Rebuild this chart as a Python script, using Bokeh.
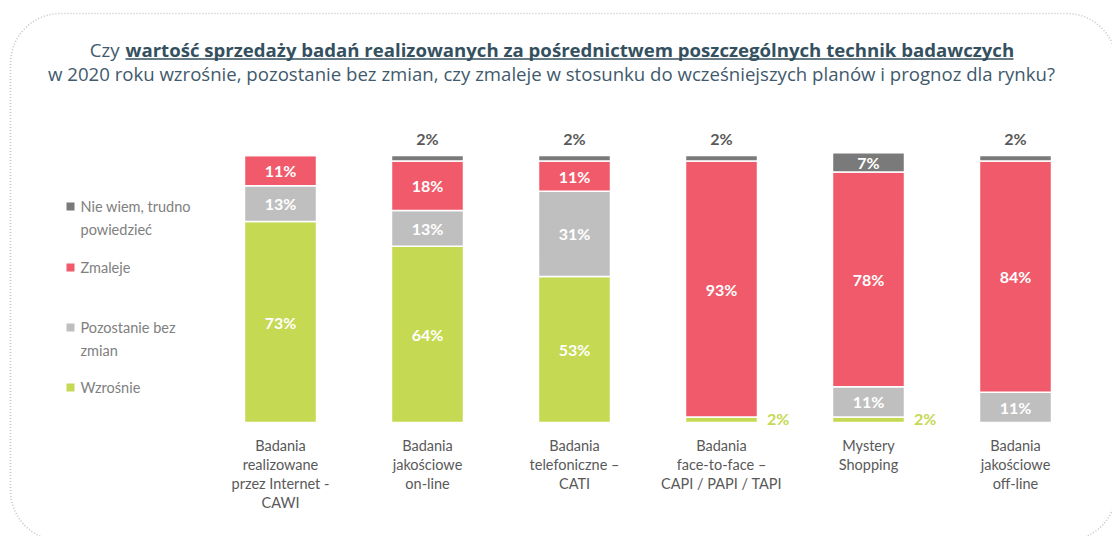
import math
from bokeh.plotting import figure
from bokeh.models import ColumnDataSource, Range1d
from bokeh.core.properties import value
from bokeh.embed import file_html
from bokeh.resources import INLINE

# ---------------- data ----------------
categories = [
    "Badania\nrealizowane\nprzez Internet -\nCAWI",
    "Badania\njakościowe\non-line",
    "Badania\ntelefoniczne –\nCATI",
    "Badania\nface-to-face –\nCAPI / PAPI / TAPI",
    "Mystery\nShopping",
    "Badania\njakościowe\noff-line",
]
wzrosnie = [73, 64, 53, 2, 2, 0]
pozostanie = [13, 13, 31, 0, 11, 11]
zmaleje = [11, 18, 11, 93, 78, 84]
nie_wiem = [0, 2, 2, 2, 7, 2]
series_keys = ["wzrosnie", "pozostanie", "zmaleje", "nie_wiem"]
series_labels = ["Wzrośnie", "Pozostanie bez\nzmian", "Zmaleje", "Nie wiem, trudno\npowiedzieć"]
colors = ["#c5d952", "#bfbfbf", "#f05a6b", "#7a7a7a"]

title_pre = "Czy"
title_bold = "wartość sprzedaży badań realizowanych za pośrednictwem poszczególnych technik badawczych"
title_line2 = "w 2020 roku wzrośnie, pozostanie bez zmian, czy zmaleje w stosunku do wcześniejszych planów i prognoz dla rynku?"

# ---------------- layout helpers (pixel -> data) ----------------
W, H = 1112, 536
X0, STEP = 280.0, 147.0
Y0, PPP = 422.0, 267.0 / 97.0


def X(px):
    return (px - X0) / STEP


def Y(py):
    return (Y0 - py) / PPP


FONT = value("Lato")
TFONT = value("Open Sans")

p = figure(width=W, height=H, x_range=Range1d(X(0), X(W)), y_range=Range1d(Y(H), Y(0)),
           output_backend="svg", toolbar_location=None, min_border=0)
p.axis.visible = False
p.grid.visible = False
p.outline_line_color = None
p.background_fill_color = "white"
p.border_fill_color = "white"

# ---------------- rounded dotted frame ----------------
bx0, by0, bx1, by1, r = 10, 13, 1116, 540, 50
pts = []
for cx, cy, a0 in [(bx1 - r, by0 + r, -90), (bx1 - r, by1 - r, 0), (bx0 + r, by1 - r, 90), (bx0 + r, by0 + r, 180)]:
    for k in range(0, 19):
        a = math.radians(a0 + k * 5)
        pts.append((cx + r * math.cos(a), cy + r * math.sin(a)))
pts.append(pts[0])
p.line([X(a) for a, b in pts], [Y(b) for a, b in pts], line_color="#c4c4c4", line_width=1.6, line_dash="1 2")

# ---------------- bars ----------------
xs = list(range(len(categories)))
src = ColumnDataSource(dict(x=xs, wzrosnie=wzrosnie, pozostanie=pozostanie, zmaleje=zmaleje, nie_wiem=nie_wiem))
p.vbar_stack(series_keys, x="x", width=0.49, color=colors, line_color="white", line_width=1.5, source=src)

# ---------------- value labels ----------------
in_x, in_y, in_t = [], [], []
top_x, top_y, top_t = [], [], []
side_x, side_y, side_t = [], [], []
series_vals = [wzrosnie, pozostanie, zmaleje, nie_wiem]
for i in xs:
    bottom = 0
    for s, vals in enumerate(series_vals):
        v = vals[i]
        if v >= 5:
            in_x.append(i); in_y.append(bottom + v / 2); in_t.append(f"{v}%")
        elif v > 0 and s == 3:
            top_x.append(i); top_y.append(bottom + v + 2.6); top_t.append(f"{v}%")
        elif v > 0 and s == 0:
            side_x.append(i + 0.31); side_y.append(bottom + v / 2 + 0.3); side_t.append(f"{v}%")
        bottom += v

p.text(in_x, in_y, text=in_t, text_color="white", text_font=FONT, text_font_style="bold",
       text_font_size="16px", text_align="center", text_baseline="middle")
p.text(top_x, top_y, text=top_t, text_color="#595959", text_font=FONT, text_font_style="bold",
       text_font_size="16px", text_align="center", text_baseline="bottom")
p.text(side_x, side_y, text=side_t, text_color="#c5d952", text_font=FONT, text_font_style="bold",
       text_font_size="16px", text_align="left", text_baseline="middle")

# ---------------- category labels ----------------
p.text(xs, [Y(436)] * len(xs), text=categories, text_color="#595959", text_font=FONT,
       text_font_size="14.5px", text_align="center", text_baseline="top", text_line_height=1.13)

# ---------------- legend ----------------
leg_py = [387, 327, 267, 206]
p.scatter([X(70)] * 4, [Y(v) for v in leg_py], marker="square", size=8, color=colors, line_color=None)
p.text([X(80)] * 4, [Y(v - 9) for v in leg_py], text=series_labels, text_color="#808080", text_font=FONT,
       text_font_size="14.5px", text_align="left", text_baseline="top", text_line_height=1.37)

# ---------------- title ----------------
TC = "#3f5a6c"
p.text([X(119)], [Y(49)], text=[title_pre], text_color=TC, text_font=TFONT, text_font_size="18.6px",
       text_align="right", text_baseline="middle")
p.text([X(125)], [Y(49)], text=[title_bold], text_color="#34505f", text_font=TFONT, text_font_style="bold",
       text_font_size="18.6px", text_align="left", text_baseline="middle")
p.segment([X(125)], [Y(58.5)], [X(1013)], [Y(58.5)], line_color="#34505f", line_width=1.3)
p.text([X(551)], [Y(73)], text=[title_line2], text_color=TC, text_font=TFONT, text_font_size="18.6px",
       text_align="center", text_baseline="middle")

open("out.html", "w").write(file_html(p, INLINE))
